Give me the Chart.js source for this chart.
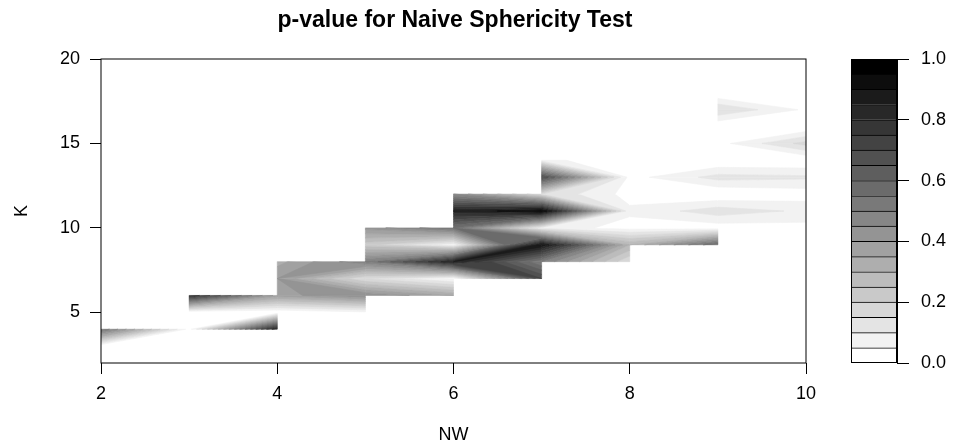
<!DOCTYPE html>
<html>
<head>
<meta charset="utf-8">
<script src="https://cdn.jsdelivr.net/npm/chart.js@4.4.0/dist/chart.umd.min.js"></script>
<style>
  html, body { margin: 0; padding: 0; background: #fff; }
  #wrap { position: relative; width: 953px; height: 448px; }
  #main { position: absolute; left: 0; top: 0; }
  #key { position: absolute; left: 830px; top: 0; }
</style>
</head>
<body>
<div id="wrap">
  <canvas id="main" width="953" height="448"></canvas>
  <canvas id="key" width="123" height="448"></canvas>
</div>
<script>
// p-value grid: one array per NW, indexed by K = 2..20, null where not computed
const nwValues = [2, 3, 4, 5, 6, 7, 8, 9, 10];
const kValues = [2, 3, 4, 5, 6, 7, 8, 9, 10, 11, 12, 13, 14, 15, 16, 17, 18, 19, 20];

const pNW2 = [0, 0, 0.55, null, null, null, null, null, null, null, null, null, null, null, null, null, null, null, null];
const pNW3 = [null, 0, 0.03, 0, 0.8, null, null, null, null, null, null, null, null, null, null, null, null, null, null];
const pNW4 = [null, null, 0.85, 0, 0.38, 0.4, 0.33, null, null, null, null, null, null, null, null, null, null, null, null];
const pNW5 = [null, null, null, 0.04, 0.45, 0.15, 0.5, 0.22, 0.42, null, null, null, null, null, null, null, null, null, null];
const pNW6 = [null, null, null, null, 0.35, 0.04, 0.85, 0.06, 0.55, 0.85, 0.45, null, null, null, null, null, null, null, null];
const pNW7 = [null, null, null, null, null, 0.7, 0.5, 0.9, 0.08, 0.95, 0.15, 0.7, 0.07, null, null, null, null, null, null];
const pNW8 = [null, null, null, null, null, null, 0.15, 0.3, 0.03, 0.06, 0.03, 0.03, 0, 0, 0, null, null, null, null];
const pNW9 = [null, null, null, null, null, null, null, 0.6, 0.02, 0.13, 0, 0.12, 0, 0.03, 0, 0.15, 0, null, null];
const pNW10 = [null, null, null, null, null, null, null, null, 0.03, 0.09, 0.02, 0.11, 0, 0.17, 0, 0.04, 0, 0, 0];
const pValues = [pNW2, pNW3, pNW4, pNW5, pNW6, pNW7, pNW8, pNW9, pNW10];

const levels = [0, 0.05, 0.1, 0.15, 0.2, 0.25, 0.3, 0.35, 0.4, 0.45, 0.5,
                0.55, 0.6, 0.65, 0.7, 0.75, 0.8, 0.85, 0.9, 0.95, 1];
const xTicks = [2, 4, 6, 8, 10];
const yTicks = [5, 10, 15, 20];
const keyTicks = [0, 0.2, 0.4, 0.6, 0.8, 1];

// white -> black, one grey per band
const levelColors = ['#ffffff', '#f2f2f2', '#e4e4e4', '#d7d7d7', '#c9c9c9', '#bcbcbc', '#aeaeae',
  '#a1a1a1', '#949494', '#868686', '#797979', '#6b6b6b', '#5e5e5e', '#515151', '#434343',
  '#363636', '#282828', '#1b1b1b', '#0d0d0d', '#000000'];

Chart.defaults.font.family = "'Liberation Sans', Arial, sans-serif";
Chart.defaults.color = '#000';

// points of one cell edge that lie in the band [lo, hi), in order along the edge
function bandEdge(p1, p2, lo, hi, last, pts) {
  const z1 = p1[2], z2 = p2[2];
  const inBand = z1 >= lo && (z1 < hi || (last && z1 <= hi));
  if (inBand) pts.push([p1[0], p1[1]]);
  const cuts = [];
  [lo, hi].forEach(lv => {
    if ((z1 < lv) !== (z2 < lv) && z1 !== z2) cuts.push((lv - z1) / (z2 - z1));
  });
  cuts.sort((a, b) => a - b);
  cuts.forEach(t => pts.push([p1[0] + t * (p2[0] - p1[0]), p1[1] + t * (p2[1] - p1[1])]));
}

const contourPlugin = {
  id: 'filledContour',
  afterDatasetsDraw(chart) {
    const { ctx, chartArea, scales: { x, y } } = chart;
    ctx.save();
    ctx.beginPath();
    ctx.rect(chartArea.left, chartArea.top, chartArea.width, chartArea.height);
    ctx.clip();
    for (let i = 0; i < nwValues.length - 1; i++) {
      for (let j = 0; j < kValues.length - 1; j++) {
        const z00 = pValues[i][j], z10 = pValues[i + 1][j];
        const z11 = pValues[i + 1][j + 1], z01 = pValues[i][j + 1];
        if (z00 === null || z10 === null || z11 === null || z01 === null) continue;
        const corners = [
          [nwValues[i], kValues[j], z00],
          [nwValues[i + 1], kValues[j], z10],
          [nwValues[i + 1], kValues[j + 1], z11],
          [nwValues[i], kValues[j + 1], z01]
        ];
        for (let b = 0; b < levelColors.length; b++) {
          const pts = [];
          const last = b === levelColors.length - 1;
          for (let e = 0; e < 4; e++) bandEdge(corners[e], corners[(e + 1) % 4], levels[b], levels[b + 1], last, pts);
          if (pts.length < 3) continue;
          ctx.beginPath();
          pts.forEach((p, n) => {
            const px = x.getPixelForValue(p[0]);
            const py = y.getPixelForValue(p[1]);
            if (n) ctx.lineTo(px, py); else ctx.moveTo(px, py);
          });
          ctx.closePath();
          ctx.fillStyle = levelColors[b];
          ctx.strokeStyle = levelColors[b];
          ctx.lineWidth = 0.6;
          ctx.fill();
          ctx.stroke();
        }
      }
    }
    ctx.restore();
    ctx.save();
    ctx.strokeStyle = '#000';
    ctx.lineWidth = 1;
    ctx.strokeRect(chartArea.left, chartArea.top, chartArea.width, chartArea.height);
    ctx.restore();
  }
};

new Chart(document.getElementById('main'), {
  type: 'scatter',
  data: { datasets: [] },
  options: {
    responsive: false,
    animation: false,
    layout: { padding: { left: 0, right: 43, top: 0, bottom: 0 } },
    plugins: {
      legend: { display: false },
      tooltip: { enabled: false },
      title: {
        display: true,
        text: 'p-value for Naive Sphericity Test',
        font: { size: 23, weight: 'bold' },
        color: '#000',
        padding: { top: 7, bottom: 24.4 }
      }
    },
    scales: {
      x: {
        type: 'linear',
        position: 'bottom',
        min: 2,
        max: 10,
        afterBuildTicks: s => { s.ticks = xTicks.map(v => ({ value: v })); },
        afterFit: s => { s.height = 85; },
        ticks: { font: { size: 18 }, color: '#000', padding: 9, maxRotation: 0 },
        grid: { drawOnChartArea: false, tickLength: 11, color: '#000', lineWidth: 1 },
        border: { display: false },
        title: { display: true, text: 'NW', font: { size: 18 }, color: '#000', padding: { top: 0, bottom: 2 } }
      },
      y: {
        type: 'linear',
        position: 'left',
        min: 2,
        max: 20,
        afterBuildTicks: s => { s.ticks = yTicks.map(v => ({ value: v })); },
        afterFit: s => { s.width = 101; },
        ticks: { font: { size: 18 }, color: '#000', padding: 10 },
        grid: { drawOnChartArea: false, tickLength: 11, color: '#000', lineWidth: 1 },
        border: { display: false },
        title: { display: true, text: 'K', font: { size: 18 }, color: '#000', padding: { top: 11, bottom: 0 } }
      },
      y2: {
        type: 'linear',
        position: 'right',
        afterFit: s => { s.width = 104; },
        ticks: { display: false },
        grid: { display: false },
        border: { display: false }
      }
    }
  },
  plugins: [contourPlugin]
});

const keyFrame = {
  id: 'keyFrame',
  afterDatasetsDraw(chart) {
    const { ctx, chartArea } = chart;
    ctx.save();
    ctx.strokeStyle = '#000';
    ctx.lineWidth = 1;
    ctx.strokeRect(chartArea.left + 0.5, chartArea.top + 0.5, chartArea.width - 1, chartArea.height - 1);
    ctx.restore();
  }
};

new Chart(document.getElementById('key'), {
  type: 'bar',
  data: {
    labels: ['p'],
    datasets: levelColors.map((c, b) => ({
      data: [[levels[b], levels[b + 1]]],
      backgroundColor: c,
      borderColor: '#000',
      borderWidth: 1,
      grouped: false,
      barPercentage: 1,
      categoryPercentage: 1
    }))
  },
  options: {
    responsive: false,
    animation: false,
    layout: { padding: { left: 21, top: 59, bottom: 85, right: 0 } },
    plugins: { legend: { display: false }, tooltip: { enabled: false } },
    scales: {
      x: { display: false },
      y: {
        position: 'right',
        min: 0,
        max: 1,
        afterBuildTicks: s => { s.ticks = keyTicks.map(v => ({ value: v })); },
        afterFit: s => { s.width = 56; },
        ticks: { font: { size: 18 }, color: '#000', padding: 12, callback: v => Number(v).toFixed(1) },
        grid: { drawOnChartArea: false, tickLength: 12, color: '#000', lineWidth: 1 },
        border: { display: true, color: '#000' }
      }
    }
  },
  plugins: [keyFrame]
});
</script>
</body>
</html>
